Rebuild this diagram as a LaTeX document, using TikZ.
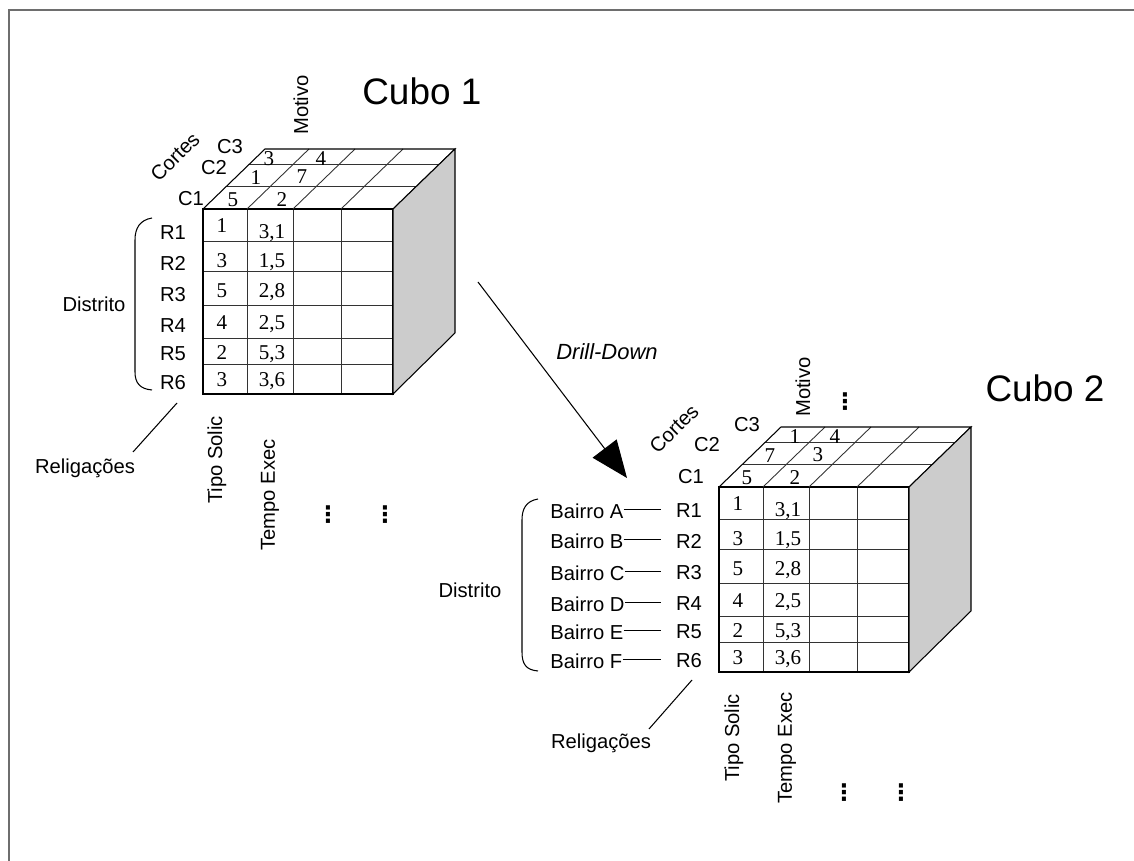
\documentclass[tikz,border=0pt]{standalone}
\usepackage{fontspec}
\setmainfont{Liberation Serif}
\setsansfont{Liberation Sans}
\newfontfamily\simbolos{DejaVu Sans}
\usetikzlibrary{arrows.meta,calc,positioning}
\definecolor{lado}{HTML}{CCCCCC}
\definecolor{moldura}{HTML}{6E6E6E}
\tikzset{
  cubeline/.style={line width=0.6pt},
  gridline/.style={line width=0.5pt,black!80},
  celltxt/.style={anchor=base,inner sep=0pt,font=\rmfamily\fontsize{12}{14}\selectfont},
  lbl/.style={inner sep=0pt,font=\sffamily\fontsize{11.5}{13}\selectfont},
  titulo/.style={inner sep=0pt,font=\sffamily\fontsize{21}{24}\selectfont},
  pontos/.style={inner sep=0pt,font=\simbolos\bfseries\fontsize{13}{15}\selectfont},
}
% #1 prefixo dos nomes, #2 deslocamento, #3 valores da face de cima
\newcommand{\cubo}[3]{%
  \begin{scope}[shift={#2}]
    % face da frente
    \foreach \y in {241,271,305,338,364} \draw[gridline] (203,\y) -- (393,\y);
    \foreach \x in {247,293,341} \draw[gridline] (\x,209) -- (\x,394);
    \draw[cubeline] (203,209) rectangle (393,394);
    % face de cima
    \draw[gridline] (226,186) -- (416,186);
    \draw[gridline] (249,164) -- (439,164);
    \foreach \x in {247,293,341} \draw[gridline] (\x,209) -- ++(62,-60);
    \draw[cubeline] (203,209) -- (265,149) -- (455,149) -- (393,209);
    % face lateral
    \draw[cubeline,fill=lado] (393,209) -- (455,149) -- (455,333) -- (393,394) -- cycle;
    % celulas
    \foreach \n/\a/\b/\ya/\yb in {1/1/{3,1}/233/239,2/3/{1,5}/268/268,3/5/{2,8}/298/298,
                                   4/4/{2,5}/330/330,5/2/{5,3}/360/360,6/3/{3,6}/387/387}{
      \node[celltxt] (#1a\n) at (222,\ya) {\a};
      \node[celltxt] (#1b\n) at (272,\yb) {\b};
    }
    \foreach \n/\v/\x/\y in {#3} \node[celltxt] (#1t\n) at (\x,\y) {\v};
  \end{scope}}

\begin{document}
\begin{tikzpicture}[x=0.02cm,y=-0.02cm]
\useasboundingbox (0,0) rectangle (1134,861);
\draw[moldura,line width=1pt] (9,861) -- (9,10) -- (1134,10);

% cubo 1
\cubo{u}{(0,0)}{1/5/233/207,2/2/282/207,3/1/256/185,4/7/302/184,5/3/269/166,6/4/321/166}
\node[titulo,anchor=base west] (tit1) at (362,105) {Cubo 1};
\node[lbl,rotate=90] (mot1) at (301,105) {Motivo};
\node[lbl,rotate=45] (cor1) at (175,157) {Cortes};
\node[lbl] (uc1) at (191,199) {C1};
\node[lbl] (uc2) at (214,168) {C2};
\node[lbl] (uc3) at (230,147) {C3};
\foreach \n/\y in {1/233,2/263,3/295,4/326,5/354,6/383}
  \node[lbl] (ur\n) at (173,\y) {R\n};
\draw[cubeline] (152,218) .. controls (140,220) and (135,228) .. (135,240) -- (135,372)
  .. controls (135,383) and (140,389) .. (152,390);
\node[lbl] (dist1) at (94,304) {Distrito};
\node[lbl] (rel1) at (85,468) {Religações};
\coordinate (rel1a) at (177,403); \coordinate (rel1b) at (133,452);
\draw[cubeline] (rel1a) -- (rel1b);
\node[lbl,rotate=90] (tipo1) at (217,460) {Tipo Solic};
\node[lbl,rotate=90] (temp1) at (270,495) {Tempo Exec};
\node[pontos] (pt1) at (328,515) {⋮};
\node[pontos] (pt2) at (385,515) {⋮};

% drill-down
\coordinate (dd1) at (478,282); \coordinate (dd2) at (627,478);
\draw[cubeline,-{Triangle[length=0.74cm,width=0.6cm]}] (dd1) -- (dd2);
\node[lbl,font=\sffamily\itshape\fontsize{12.5}{14}\selectfont,anchor=east] (drill) at (658,352) {Drill-Down};

% cubo 2
\cubo{d}{(516,278)}{1/5/231/207,2/2/279/207,3/7/254/185,4/3/302/184,5/1/279/166,6/4/319/166}
\node[titulo] (tit2) at (1045,388) {Cubo 2};
\node[lbl,rotate=90] (mot2) at (803,387) {Motivo};
\node[pontos] (pt3) at (845,402) {⋮};
\node[lbl,rotate=45] (cor2) at (674,429) {Cortes};
\node[lbl] (dc1) at (691,477) {C1};
\node[lbl] (dc2) at (707,445) {C2};
\node[lbl] (dc3) at (747,425) {C3};
\foreach \n/\y/\b in {1/511/A,2/541/B,3/573/C,4/604/D,5/632/E,6/661/F}{
  \node[lbl] (dr\n) at (689,\y) {R\n};
  \node[lbl,anchor=west] (ba\n) at (550,\y) {Bairro \b};
  \draw[cubeline,shorten >=8.5pt] ([yshift=1pt]ba\n.east) -- ([yshift=1pt]ba\n.east -| dr\n.west);
}
\draw[cubeline] (538,499) .. controls (526,501) and (522,509) .. (522,520) -- (522,652)
  .. controls (522,664) and (526,670) .. (538,671);
\node[lbl] (dist2) at (470,590) {Distrito};
\node[lbl] (rel2) at (601,743) {Religações};
\coordinate (rel2a) at (692,680); \coordinate (rel2b) at (649,729);
\draw[cubeline] (rel2a) -- (rel2b);
\node[lbl,rotate=90] (tipo2) at (734,738) {Tipo Solic};
\node[lbl,rotate=90] (temp2) at (787,748) {Tempo Exec};
\node[pontos] (pt4) at (844,793) {⋮};
\node[pontos] (pt5) at (901,793) {⋮};
\end{tikzpicture}
\end{document}
